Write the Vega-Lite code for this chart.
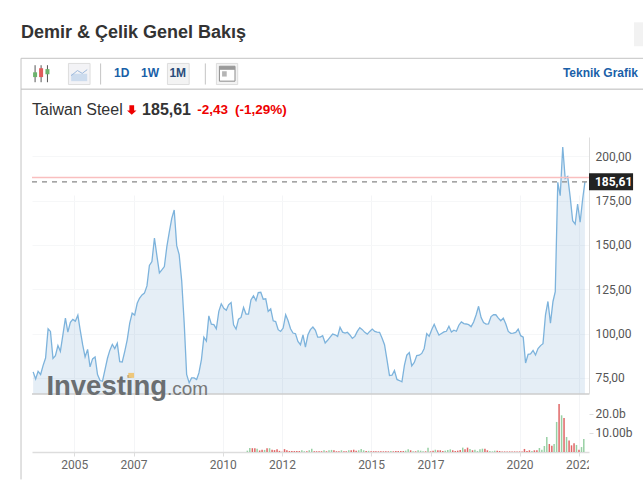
{
"$schema":"https://vega.github.io/schema/vega-lite/v6.json",
"autosize":{"type":"none"},
"padding":{"left":32,"top":137,"right":54,"bottom":28},
"width":557,"height":315,
"background":"white",
"config":{"view":{"stroke":null}},
"data":{"values":[{}]},
"datasets":{
"price":[
{"d":"2003-08-15","p":78.4},{"d":"2003-09-15","p":74.4},{"d":"2003-10-15","p":78.7},{"d":"2003-11-15","p":76.9},{"d":"2003-12-15","p":81.9},
{"d":"2004-01-15","p":86.2},{"d":"2004-02-15","p":102.7},{"d":"2004-03-15","p":101.2},{"d":"2004-04-15","p":86},{"d":"2004-05-15","p":87.5},{"d":"2004-06-15","p":93.2},{"d":"2004-07-15","p":90},{"d":"2004-08-15","p":99.3},{"d":"2004-09-15","p":108.7},{"d":"2004-10-15","p":100.8},{"d":"2004-11-15","p":106.3},{"d":"2004-12-15","p":108},
{"d":"2005-01-15","p":107},{"d":"2005-02-15","p":110.4},{"d":"2005-03-15","p":102.2},{"d":"2005-04-15","p":93.7},{"d":"2005-05-15","p":86.8},{"d":"2005-06-15","p":91.1},{"d":"2005-07-15","p":81.2},{"d":"2005-08-15","p":85.7},{"d":"2005-09-15","p":86.8},{"d":"2005-10-15","p":76.9},{"d":"2005-11-15","p":73.5},{"d":"2005-12-15","p":73.1},
{"d":"2006-01-15","p":79.7},{"d":"2006-02-15","p":86.2},{"d":"2006-03-15","p":90.5},{"d":"2006-04-15","p":93.9},{"d":"2006-05-15","p":91.5},{"d":"2006-06-15","p":94.5},{"d":"2006-07-15","p":84.2},{"d":"2006-08-15","p":84},{"d":"2006-09-15","p":90},{"d":"2006-10-15","p":96.5},{"d":"2006-11-15","p":105.9},{"d":"2006-12-15","p":111.5},
{"d":"2007-01-15","p":110.4},{"d":"2007-02-15","p":117.1},{"d":"2007-03-15","p":119.9},{"d":"2007-04-15","p":121.8},{"d":"2007-05-15","p":122.8},{"d":"2007-06-15","p":126.9},{"d":"2007-07-15","p":138.4},{"d":"2007-08-15","p":140.6},{"d":"2007-09-15","p":153.9},{"d":"2007-10-15","p":144},{"d":"2007-11-15","p":134.2},{"d":"2007-12-15","p":135.9},
{"d":"2008-01-15","p":137.8},{"d":"2008-02-15","p":149.2},{"d":"2008-03-15","p":157.1},{"d":"2008-04-15","p":165},{"d":"2008-05-15","p":169.7},{"d":"2008-06-15","p":149.6},{"d":"2008-07-15","p":144.6},{"d":"2008-08-15","p":129.9},{"d":"2008-09-15","p":105.9},{"d":"2008-10-15","p":76.9},{"d":"2008-11-15","p":72.2},{"d":"2008-12-15","p":75},
{"d":"2009-01-15","p":75},{"d":"2009-02-15","p":74.1},{"d":"2009-03-15","p":77.8},{"d":"2009-04-15","p":85.3},{"d":"2009-05-15","p":98},{"d":"2009-06-15","p":95.8},{"d":"2009-07-15","p":110},{"d":"2009-08-15","p":105.3},{"d":"2009-09-15","p":105},{"d":"2009-10-15","p":102.7},{"d":"2009-11-15","p":112.5},{"d":"2009-12-15","p":116.8},
{"d":"2010-01-15","p":114.3},{"d":"2010-02-15","p":113.2},{"d":"2010-03-15","p":116.2},{"d":"2010-04-15","p":117.5},{"d":"2010-05-15","p":105},{"d":"2010-06-15","p":102.5},{"d":"2010-07-15","p":108.1},{"d":"2010-08-15","p":109.1},{"d":"2010-09-15","p":114.7},{"d":"2010-10-15","p":111},{"d":"2010-11-15","p":111},{"d":"2010-12-15","p":119},
{"d":"2011-01-15","p":121.3},{"d":"2011-02-15","p":118.6},{"d":"2011-03-15","p":123.1},{"d":"2011-04-15","p":123.3},{"d":"2011-05-15","p":119.4},{"d":"2011-06-15","p":119.6},{"d":"2011-07-15","p":112.5},{"d":"2011-08-15","p":114},{"d":"2011-09-15","p":107.2},{"d":"2011-10-15","p":106.8},{"d":"2011-11-15","p":102.2},{"d":"2011-12-15","p":101.2},
{"d":"2012-01-15","p":103.1},{"d":"2012-02-15","p":110.6},{"d":"2012-03-15","p":107.4},{"d":"2012-04-15","p":102.7},{"d":"2012-05-15","p":100.3},{"d":"2012-06-15","p":99.9},{"d":"2012-07-15","p":95.6},{"d":"2012-08-15","p":93.7},{"d":"2012-09-15","p":99.3},{"d":"2012-10-15","p":92.4},{"d":"2012-11-15","p":99.3},{"d":"2012-12-15","p":102.2},
{"d":"2013-01-15","p":103.7},{"d":"2013-02-15","p":101.8},{"d":"2013-03-15","p":98},{"d":"2013-04-15","p":98},{"d":"2013-05-15","p":98.8},{"d":"2013-06-15","p":94.7},{"d":"2013-07-15","p":96.2},{"d":"2013-08-15","p":98},{"d":"2013-09-15","p":99.7},{"d":"2013-10-15","p":99.3},{"d":"2013-11-15","p":98.4},{"d":"2013-12-15","p":103.5},
{"d":"2014-01-15","p":100.8},{"d":"2014-02-15","p":100.3},{"d":"2014-03-15","p":100.7},{"d":"2014-04-15","p":99.2},{"d":"2014-05-15","p":97.3},{"d":"2014-06-15","p":98.4},{"d":"2014-07-15","p":101.2},{"d":"2014-08-15","p":103.3},{"d":"2014-09-15","p":102.2},{"d":"2014-10-15","p":100.7},{"d":"2014-11-15","p":99.7},{"d":"2014-12-15","p":101.2},
{"d":"2015-01-15","p":102.5},{"d":"2015-02-15","p":101.2},{"d":"2015-03-15","p":100.8},{"d":"2015-04-15","p":100.7},{"d":"2015-05-15","p":97.5},{"d":"2015-06-15","p":93.7},{"d":"2015-07-15","p":85.3},{"d":"2015-08-15","p":76.3},{"d":"2015-09-15","p":76.5},{"d":"2015-10-15","p":79.1},{"d":"2015-11-15","p":74.1},{"d":"2015-12-15","p":73.5},
{"d":"2016-01-15","p":72.8},{"d":"2016-02-15","p":82.2},{"d":"2016-03-15","p":87.8},{"d":"2016-04-15","p":89.3},{"d":"2016-05-15","p":81.8},{"d":"2016-06-15","p":83.7},{"d":"2016-07-15","p":87.6},{"d":"2016-08-15","p":87.8},{"d":"2016-09-15","p":88.8},{"d":"2016-10-15","p":91.6},{"d":"2016-11-15","p":100},{"d":"2016-12-15","p":98.5},
{"d":"2017-01-15","p":102.2},{"d":"2017-02-15","p":105.2},{"d":"2017-03-15","p":102.2},{"d":"2017-04-15","p":99.1},{"d":"2017-05-15","p":100},{"d":"2017-06-15","p":100.9},{"d":"2017-07-15","p":101.3},{"d":"2017-08-15","p":104.1},{"d":"2017-09-15","p":100.9},{"d":"2017-10-15","p":101.9},{"d":"2017-11-15","p":101.3},{"d":"2017-12-15","p":104.7},
{"d":"2018-01-15","p":106.6},{"d":"2018-02-15","p":105.6},{"d":"2018-03-15","p":105.4},{"d":"2018-04-15","p":105},{"d":"2018-05-15","p":103.9},{"d":"2018-06-15","p":106.5},{"d":"2018-07-15","p":110.5},{"d":"2018-08-15","p":115.4},{"d":"2018-09-15","p":109},{"d":"2018-10-15","p":106.2},{"d":"2018-11-15","p":105.3},{"d":"2018-12-15","p":105.5},
{"d":"2019-01-15","p":109.6},{"d":"2019-02-15","p":110.6},{"d":"2019-03-15","p":110.6},{"d":"2019-04-15","p":108.7},{"d":"2019-05-15","p":107.2},{"d":"2019-06-15","p":108.7},{"d":"2019-07-15","p":105.5},{"d":"2019-08-15","p":101.2},{"d":"2019-09-15","p":100.1},{"d":"2019-10-15","p":100.3},{"d":"2019-11-15","p":100.7},{"d":"2019-12-15","p":102.5},
{"d":"2020-01-15","p":98.8},{"d":"2020-02-15","p":98},{"d":"2020-03-15","p":83.4},{"d":"2020-04-15","p":88.3},{"d":"2020-05-15","p":88.5},{"d":"2020-06-15","p":90.5},{"d":"2020-07-15","p":87.9},{"d":"2020-08-15","p":91.5},{"d":"2020-09-15","p":93.2},{"d":"2020-10-15","p":94.3},{"d":"2020-11-15","p":110.6},{"d":"2020-12-15","p":118.1},
{"d":"2021-01-15","p":105.9},{"d":"2021-02-15","p":118.1},{"d":"2021-03-15","p":123.7},{"d":"2021-04-15","p":185.3},{"d":"2021-05-15","p":177.8},{"d":"2021-06-15","p":205.3},{"d":"2021-07-15","p":187.5},{"d":"2021-08-15","p":188.6},{"d":"2021-09-15","p":176.8},{"d":"2021-10-15","p":163.7},{"d":"2021-11-15","p":161.8},{"d":"2021-12-15","p":173.1},
{"d":"2022-01-15","p":162.8},{"d":"2022-02-15","p":175.9},{"d":"2022-03-15","p":185.61}
],
"volume":[
{"d":"2010-11-01","v":0.7,"dir":"up"},{"d":"2010-12-01","v":2.1,"dir":"up"},
{"d":"2011-01-01","v":2,"dir":"down"},{"d":"2011-02-01","v":2,"dir":"down"},{"d":"2011-03-01","v":1.7,"dir":"up"},{"d":"2011-04-01","v":0.8,"dir":"down"},{"d":"2011-05-01","v":1.2,"dir":"down"},{"d":"2011-06-01","v":1.1,"dir":"up"},{"d":"2011-07-01","v":2,"dir":"down"},{"d":"2011-08-01","v":2,"dir":"up"},{"d":"2011-09-01","v":1.2,"dir":"down"},{"d":"2011-10-01","v":1,"dir":"down"},{"d":"2011-11-01","v":1.5,"dir":"down"},{"d":"2011-12-01","v":0.6,"dir":"down"},
{"d":"2012-01-01","v":0.1,"dir":"down"},{"d":"2012-02-01","v":1.5,"dir":"down"},{"d":"2012-03-01","v":0.9,"dir":"down"},{"d":"2012-04-01","v":0.5,"dir":"down"},{"d":"2012-05-01","v":0.5,"dir":"down"},{"d":"2012-06-01","v":0.5,"dir":"down"},{"d":"2012-07-01","v":0.5,"dir":"down"},{"d":"2012-08-01","v":0.5,"dir":"down"},{"d":"2012-09-01","v":0.9,"dir":"up"},{"d":"2012-10-01","v":0.4,"dir":"up"},{"d":"2012-11-01","v":0.4,"dir":"down"},{"d":"2012-12-01","v":0.9,"dir":"up"},
{"d":"2013-01-01","v":1.7,"dir":"up"},{"d":"2013-02-01","v":0.4,"dir":"down"},{"d":"2013-03-01","v":0.4,"dir":"down"},{"d":"2013-04-01","v":0.4,"dir":"down"},{"d":"2013-05-01","v":0.4,"dir":"down"},{"d":"2013-06-01","v":0.9,"dir":"up"},{"d":"2013-07-01","v":0.4,"dir":"down"},{"d":"2013-08-01","v":0.9,"dir":"up"},{"d":"2013-09-01","v":1.1,"dir":"up"},{"d":"2013-10-01","v":0.9,"dir":"down"},{"d":"2013-11-01","v":0.4,"dir":"down"},{"d":"2013-12-01","v":0.4,"dir":"down"},
{"d":"2014-01-01","v":0.9,"dir":"up"},{"d":"2014-02-01","v":0.4,"dir":"down"},{"d":"2014-03-01","v":0.4,"dir":"down"},{"d":"2014-04-01","v":0.9,"dir":"up"},{"d":"2014-05-01","v":0.9,"dir":"down"},{"d":"2014-06-01","v":1.2,"dir":"down"},{"d":"2014-07-01","v":0.6,"dir":"down"},{"d":"2014-08-01","v":0.9,"dir":"up"},{"d":"2014-09-01","v":1.6,"dir":"up"},{"d":"2014-10-01","v":0.9,"dir":"up"},{"d":"2014-11-01","v":0.5,"dir":"down"},{"d":"2014-12-01","v":0.6,"dir":"up"},
{"d":"2015-01-01","v":0.4,"dir":"down"},{"d":"2015-02-01","v":0.4,"dir":"down"},{"d":"2015-03-01","v":0.35,"dir":"down"},{"d":"2015-04-01","v":0.35,"dir":"down"},{"d":"2015-05-01","v":0.35,"dir":"down"},{"d":"2015-06-01","v":0.35,"dir":"down"},{"d":"2015-07-01","v":0.35,"dir":"down"},{"d":"2015-08-01","v":0.35,"dir":"down"},{"d":"2015-09-01","v":0.5,"dir":"up"},{"d":"2015-10-01","v":0.35,"dir":"down"},{"d":"2015-11-01","v":0.5,"dir":"down"},{"d":"2015-12-01","v":0.5,"dir":"down"},
{"d":"2016-01-01","v":0.5,"dir":"down"},{"d":"2016-02-01","v":0.5,"dir":"down"},{"d":"2016-03-01","v":0.7,"dir":"up"},{"d":"2016-04-01","v":1.4,"dir":"up"},{"d":"2016-05-01","v":0.9,"dir":"down"},{"d":"2016-06-01","v":0.35,"dir":"up"},{"d":"2016-07-01","v":0.35,"dir":"down"},{"d":"2016-08-01","v":0.9,"dir":"up"},{"d":"2016-09-01","v":0.7,"dir":"up"},{"d":"2016-10-01","v":0.35,"dir":"up"},{"d":"2016-11-01","v":0.35,"dir":"down"},{"d":"2016-12-01","v":2.3,"dir":"up"},
{"d":"2017-01-01","v":0.35,"dir":"down"},{"d":"2017-02-01","v":0.7,"dir":"down"},{"d":"2017-03-01","v":1.2,"dir":"up"},{"d":"2017-04-01","v":0.9,"dir":"down"},{"d":"2017-05-01","v":0.9,"dir":"down"},{"d":"2017-06-01","v":0.5,"dir":"down"},{"d":"2017-07-01","v":0.7,"dir":"up"},{"d":"2017-08-01","v":1.05,"dir":"up"},{"d":"2017-09-01","v":1.4,"dir":"up"},{"d":"2017-10-01","v":0.9,"dir":"down"},{"d":"2017-11-01","v":0.5,"dir":"down"},{"d":"2017-12-01","v":0.7,"dir":"down"},
{"d":"2018-01-01","v":1.05,"dir":"down"},{"d":"2018-02-01","v":2.3,"dir":"up"},{"d":"2018-03-01","v":1.4,"dir":"down"},{"d":"2018-04-01","v":2.3,"dir":"down"},{"d":"2018-05-01","v":1.6,"dir":"up"},{"d":"2018-06-01","v":0.9,"dir":"down"},{"d":"2018-07-01","v":1.2,"dir":"up"},{"d":"2018-08-01","v":0.5,"dir":"up"},{"d":"2018-09-01","v":1.4,"dir":"up"},{"d":"2018-10-01","v":1.75,"dir":"up"},{"d":"2018-11-01","v":1.75,"dir":"down"},{"d":"2018-12-01","v":0.9,"dir":"down"},
{"d":"2019-01-01","v":0.5,"dir":"up"},{"d":"2019-02-01","v":0.35,"dir":"up"},{"d":"2019-03-01","v":0.7,"dir":"up"},{"d":"2019-04-01","v":0.7,"dir":"down"},{"d":"2019-05-01","v":0.5,"dir":"down"},{"d":"2019-06-01","v":0.3,"dir":"down"},{"d":"2019-07-01","v":0.3,"dir":"down"},{"d":"2019-08-01","v":0.3,"dir":"down"},{"d":"2019-09-01","v":0.3,"dir":"down"},{"d":"2019-10-01","v":0.3,"dir":"down"},{"d":"2019-11-01","v":0.3,"dir":"down"},{"d":"2019-12-01","v":0.3,"dir":"down"},
{"d":"2020-01-01","v":0.3,"dir":"down"},{"d":"2020-02-01","v":0.3,"dir":"down"},{"d":"2020-03-01","v":1.6,"dir":"down"},{"d":"2020-04-01","v":0.5,"dir":"down"},{"d":"2020-05-01","v":0.9,"dir":"down"},{"d":"2020-06-01","v":0.5,"dir":"up"},{"d":"2020-07-01","v":0.9,"dir":"down"},{"d":"2020-08-01","v":0.9,"dir":"down"},{"d":"2020-09-01","v":2.1,"dir":"up"},{"d":"2020-10-01","v":1.2,"dir":"up"},{"d":"2020-11-01","v":3.2,"dir":"up"},{"d":"2020-12-01","v":7.9,"dir":"up"},
{"d":"2021-01-01","v":4.2,"dir":"down"},{"d":"2021-02-01","v":3.3,"dir":"down"},{"d":"2021-03-01","v":4.2,"dir":"up"},{"d":"2021-04-01","v":15.8,"dir":"up"},{"d":"2021-05-01","v":25.3,"dir":"down"},{"d":"2021-06-01","v":19.3,"dir":"up"},{"d":"2021-07-01","v":17.9,"dir":"down"},{"d":"2021-08-01","v":7.9,"dir":"up"},{"d":"2021-09-01","v":6.1,"dir":"down"},{"d":"2021-10-01","v":3.5,"dir":"down"},{"d":"2021-11-01","v":4.6,"dir":"down"},{"d":"2021-12-01","v":3.7,"dir":"up"},
{"d":"2022-01-01","v":1.2,"dir":"down"},{"d":"2022-02-01","v":2.6,"dir":"up"},{"d":"2022-03-01","v":6.8,"dir":"up"}
]
},
"resolve":{"scale":{"y":"independent"}},
"layer":[
{"layer":[
{"data":{"name":"price"},
 "mark":{"type":"area","fill":"#5b93c4","fillOpacity":0.16},
 "encoding":{
  "x":{"field":"d","type":"temporal","title":null,
   "scale":{"domain":[{"year":2003,"month":8,"date":1},{"year":2022,"month":5,"date":4}],"padding":0},
   "axis":{"values":[{"year":2005,"month":1,"date":1},{"year":2007,"month":1,"date":1},{"year":2010,"month":1,"date":1},{"year":2012,"month":1,"date":1},{"year":2015,"month":1,"date":1},{"year":2017,"month":1,"date":1},{"year":2020,"month":1,"date":1},{"year":2022,"month":1,"date":1}],
    "format":"%Y","grid":true,"gridColor":"#f4f5f7","domainColor":"#dddddd","domainWidth":1.5,"tickColor":"#dddddd","tickSize":4,"labelFont":"Roboto","labelFontSize":12,"labelColor":"#666666","labelPadding":3,"labelFlush":false,"labelOverlap":false}},
  "y":{"field":"p","type":"quantitative","title":null,
   "scale":{"domain":[65.9,210.9],"range":[257,0],"nice":false,"zero":false},
   "axis":{"orient":"right","values":[75,100,125,150,175,200],"labelExpr":"replace(format(datum.value,'.2f'),'.',',')","grid":true,"gridColor":"#f6f7f8","domainColor":"#dddddd","ticks":false,"labelFont":"Roboto","labelFontSize":12,"labelColor":"#555555","labelPadding":6}},
  "y2":{"datum":65.9}}},
{"data":{"name":"price"},
 "mark":{"type":"line","stroke":"#7db3dc","strokeWidth":1.3},
 "encoding":{"x":{"field":"d","type":"temporal","title":null},"y":{"field":"p","type":"quantitative","title":null}}},
{"mark":{"type":"rule","stroke":"#f9bfbf","strokeWidth":1.5},
 "encoding":{"x":{"datum":{"year":2003,"month":8,"date":1},"type":"temporal","title":null},"x2":{"datum":{"year":2022,"month":5,"date":4}},"y":{"datum":188.04,"title":null}}},
{"mark":{"type":"rule","stroke":"#888888","strokeWidth":1.2,"strokeDash":[5,5]},
 "encoding":{"x":{"datum":{"year":2003,"month":8,"date":1},"type":"temporal","title":null},"x2":{"datum":{"year":2022,"month":5,"date":4}},"y":{"datum":185.61,"title":null}}},
{"mark":{"type":"rect","fill":"#222222"},
 "encoding":{"x":{"datum":{"year":2022,"month":5,"date":4},"type":"temporal","title":null},"x2":{"datum":{"year":2023,"month":10,"date":28}},"y":{"datum":190.4,"title":null},"y2":{"datum":180.8}}},
{"mark":{"type":"text","text":"185,61","font":"Roboto","fontWeight":"bold","fontSize":12,"fill":"#ffffff","align":"left","baseline":"middle"},
 "encoding":{"x":{"datum":{"year":2022,"month":7,"date":16},"type":"temporal","title":null},"y":{"datum":185.61,"title":null}}},
{"mark":{"type":"rule","stroke":"#cccccc","strokeWidth":1.5},
 "encoding":{"x":{"datum":{"year":2003,"month":8,"date":1},"type":"temporal","title":null},"x2":{"datum":{"year":2022,"month":5,"date":4}},"y":{"datum":65.9,"title":null}}},
{"mark":{"type":"text","text":"Investing","font":"Liberation Sans","fontWeight":"bold","fontSize":27.5,"fill":"#6a6e71","align":"left","baseline":"alphabetic"},
 "encoding":{"x":{"datum":{"year":2004,"month":1,"date":25},"type":"temporal","title":null},"y":{"datum":65.6,"title":null}}},
{"mark":{"type":"text","text":".com","font":"Liberation Sans","fontSize":19,"fill":"#777777","align":"left","baseline":"alphabetic"},
 "encoding":{"x":{"datum":{"year":2008,"month":2,"date":15},"type":"temporal","title":null},"y":{"datum":65.6,"title":null}}},
{"mark":{"type":"rect","fill":"#eec77a"},
 "encoding":{"x":{"datum":{"year":2006,"month":10,"date":28},"type":"temporal","title":null},"x2":{"datum":{"year":2007,"month":1,"date":7}},"y":{"datum":77.8,"title":null},"y2":{"datum":75}}},
{"mark":{"type":"text","text":"Demir & Çelik Genel Bakış","font":"Liberation Sans","fontWeight":"bold","fontSize":18,"fill":"#333333","align":"left","baseline":"middle"},
 "encoding":{"x":{"datum":{"year":2003,"month":3,"date":19},"type":"temporal","title":null},"y":{"datum":269.4,"title":null}}},
{"mark":{"type":"rect","fill":"#f2f2f2"},
 "encoding":{"x":{"datum":{"year":2023,"month":11,"date":9},"type":"temporal","title":null},"x2":{"datum":{"year":2024,"month":3,"date":1}},"y":{"datum":275.6,"title":null},"y2":{"datum":262.1}}},
{"mark":{"type":"rule","stroke":"#c4c4c4","strokeWidth":1},
 "encoding":{"x":{"datum":{"year":2003,"month":3,"date":19},"type":"temporal","title":null},"x2":{"datum":{"year":2024,"month":3,"date":1}},"y":{"datum":255.3,"title":null}}},
{"mark":{"type":"rule","stroke":"#b8b8b8","strokeWidth":1},
 "encoding":{"x":{"datum":{"year":2003,"month":3,"date":19},"type":"temporal","title":null},"x2":{"datum":{"year":2024,"month":3,"date":1}},"y":{"datum":237.9,"title":null}}},
{"mark":{"type":"rule","stroke":"#c4c4c4","strokeWidth":1},
 "encoding":{"x":{"datum":{"year":2003,"month":3,"date":19},"type":"temporal","title":null},"y":{"datum":255.3,"title":null},"y2":{"datum":17.7}}},
{"mark":{"type":"rule","stroke":"#555555","strokeWidth":1},
 "encoding":{"x":{"datum":{"year":2003,"month":9,"date":8},"type":"temporal","title":null},"y":{"datum":251.4,"title":null},"y2":{"datum":241.8}}},
{"mark":{"type":"rule","stroke":"#555555","strokeWidth":1},
 "encoding":{"x":{"datum":{"year":2003,"month":11,"date":21},"type":"temporal","title":null},"y":{"datum":251.4,"title":null},"y2":{"datum":241.8}}},
{"mark":{"type":"rule","stroke":"#555555","strokeWidth":1},
 "encoding":{"x":{"datum":{"year":2004,"month":2,"date":7},"type":"temporal","title":null},"y":{"datum":251.4,"title":null},"y2":{"datum":241.8}}},
{"mark":{"type":"rule","stroke":"#6cb36c","strokeWidth":4},
 "encoding":{"x":{"datum":{"year":2003,"month":9,"date":8},"type":"temporal","title":null},"y":{"datum":247.4,"title":null},"y2":{"datum":244.7}}},
{"mark":{"type":"rule","stroke":"#e05a5a","strokeWidth":4},
 "encoding":{"x":{"datum":{"year":2003,"month":11,"date":21},"type":"temporal","title":null},"y":{"datum":249.7,"title":null},"y2":{"datum":244.7}}},
{"mark":{"type":"rule","stroke":"#6cb36c","strokeWidth":4},
 "encoding":{"x":{"datum":{"year":2004,"month":2,"date":7},"type":"temporal","title":null},"y":{"datum":249.2,"title":null},"y2":{"datum":246.3}}},
{"mark":{"type":"rect","fill":"#f3f3f6","stroke":"#dddddd"},
 "encoding":{"x":{"datum":{"year":2004,"month":10,"date":22},"type":"temporal","title":null},"x2":{"datum":{"year":2005,"month":7,"date":15}},"y":{"datum":252.4,"title":null},"y2":{"datum":240.5}}},
{"mark":{"type":"rect","fill":"#cddcee"},
 "encoding":{"x":{"datum":{"year":2004,"month":11,"date":25},"type":"temporal","title":null},"x2":{"datum":{"year":2005,"month":6,"date":10}},"y":{"datum":246.6,"title":null},"y2":{"datum":242.4}}},
{"mark":{"type":"rule","stroke":"#9db9dc","strokeWidth":1},
 "encoding":{"x":{"datum":{"year":2004,"month":11,"date":25},"type":"temporal","title":null},"x2":{"datum":{"year":2005,"month":2,"date":10}},"y":{"datum":245.5,"title":null},"y2":{"datum":248.4}}},
{"mark":{"type":"rule","stroke":"#9db9dc","strokeWidth":1},
 "encoding":{"x":{"datum":{"year":2005,"month":2,"date":10},"type":"temporal","title":null},"x2":{"datum":{"year":2005,"month":4,"date":10}},"y":{"datum":248.4,"title":null},"y2":{"datum":246.8}}},
{"mark":{"type":"rule","stroke":"#9db9dc","strokeWidth":1},
 "encoding":{"x":{"datum":{"year":2005,"month":4,"date":10},"type":"temporal","title":null},"x2":{"datum":{"year":2005,"month":6,"date":10}},"y":{"datum":246.8,"title":null},"y2":{"datum":248.9}}},
{"mark":{"type":"rule","stroke":"#c4c4c4","strokeWidth":1},
 "encoding":{"x":{"datum":{"year":2005,"month":11,"date":22},"type":"temporal","title":null},"y":{"datum":252.4,"title":null},"y2":{"datum":240.5}}},
{"mark":{"type":"text","text":"1D","font":"Liberation Sans","fontWeight":"bold","fontSize":12,"fill":"#1a5fa8","align":"center","baseline":"middle"},
 "encoding":{"x":{"datum":{"year":2006,"month":8,"date":9},"type":"temporal","title":null},"y":{"datum":246.9,"title":null}}},
{"mark":{"type":"text","text":"1W","font":"Liberation Sans","fontWeight":"bold","fontSize":12,"fill":"#1a5fa8","align":"center","baseline":"middle"},
 "encoding":{"x":{"datum":{"year":2007,"month":7,"date":22},"type":"temporal","title":null},"y":{"datum":246.9,"title":null}}},
{"mark":{"type":"rect","fill":"#f3f3f3","stroke":"#dddddd"},
 "encoding":{"x":{"datum":{"year":2008,"month":2,"date":22},"type":"temporal","title":null},"x2":{"datum":{"year":2008,"month":11,"date":15}},"y":{"datum":252.4,"title":null},"y2":{"datum":240.5}}},
{"mark":{"type":"text","text":"1M","font":"Liberation Sans","fontWeight":"bold","fontSize":12,"fill":"#2a4d7c","align":"center","baseline":"middle"},
 "encoding":{"x":{"datum":{"year":2008,"month":6,"date":28},"type":"temporal","title":null},"y":{"datum":246.9,"title":null}}},
{"mark":{"type":"rule","stroke":"#c4c4c4","strokeWidth":1},
 "encoding":{"x":{"datum":{"year":2009,"month":6,"date":2},"type":"temporal","title":null},"y":{"datum":252.4,"title":null},"y2":{"datum":240.5}}},
{"mark":{"type":"rect","fill":"#f3f3f3","stroke":"#dddddd"},
 "encoding":{"x":{"datum":{"year":2009,"month":10,"date":16},"type":"temporal","title":null},"x2":{"datum":{"year":2010,"month":7,"date":5}},"y":{"datum":252.4,"title":null},"y2":{"datum":240.5}}},
{"mark":{"type":"rect","fill":"#ffffff","stroke":"#8a8a8a"},
 "encoding":{"x":{"datum":{"year":2009,"month":11,"date":22},"type":"temporal","title":null},"x2":{"datum":{"year":2010,"month":6,"date":2}},"y":{"datum":250.8,"title":null},"y2":{"datum":242.4}}},
{"mark":{"type":"rect","fill":"#9a9a9a"},
 "encoding":{"x":{"datum":{"year":2009,"month":11,"date":22},"type":"temporal","title":null},"x2":{"datum":{"year":2010,"month":6,"date":2}},"y":{"datum":250.8,"title":null},"y2":{"datum":248.8}}},
{"mark":{"type":"rect","fill":"#b5b5b5"},
 "encoding":{"x":{"datum":{"year":2009,"month":12,"date":25},"type":"temporal","title":null},"x2":{"datum":{"year":2010,"month":2,"date":20}},"y":{"datum":248,"title":null},"y2":{"datum":245}}},
{"mark":{"type":"text","text":"Teknik Grafik","font":"Liberation Sans","fontWeight":"bold","fontSize":12,"fill":"#1a5fa8","align":"right","baseline":"middle"},
 "encoding":{"x":{"datum":{"year":2023,"month":12,"date":28},"type":"temporal","title":null},"y":{"datum":247.2,"title":null}}},
{"mark":{"type":"text","text":"Taiwan Steel","font":"Liberation Sans","fontSize":16,"fill":"#333333","align":"left","baseline":"middle"},
 "encoding":{"x":{"datum":{"year":2003,"month":8,"date":1},"type":"temporal","title":null},"y":{"datum":226.1,"title":null}}},
{"mark":{"type":"point","shape":"M-0.5,-1L0.5,-1L0.5,0.1L1,0.1L0,1L-1,0.1L-0.5,0.1Z","filled":true,"fill":"#ee0000","opacity":1,"size":90},
 "encoding":{"x":{"datum":{"year":2006,"month":12,"date":10},"type":"temporal","title":null},"y":{"datum":226.1,"title":null}}},
{"mark":{"type":"text","text":"185,61","font":"Liberation Sans","fontWeight":"bold","fontSize":16,"fill":"#333333","align":"left","baseline":"middle"},
 "encoding":{"x":{"datum":{"year":2007,"month":4,"date":16},"type":"temporal","title":null},"y":{"datum":226.1,"title":null}}},
{"mark":{"type":"text","text":"-2,43","font":"Liberation Sans","fontWeight":"bold","fontSize":13.5,"fill":"#ee0000","align":"left","baseline":"middle"},
 "encoding":{"x":{"datum":{"year":2009,"month":2,"date":22},"type":"temporal","title":null},"y":{"datum":226.1,"title":null}}},
{"mark":{"type":"text","text":"(-1,29%)","font":"Liberation Sans","fontWeight":"bold","fontSize":13.5,"fill":"#ee0000","align":"left","baseline":"middle"},
 "encoding":{"x":{"datum":{"year":2010,"month":6,"date":2},"type":"temporal","title":null},"y":{"datum":226.1,"title":null}}}
]},
{"layer":[
{"data":{"name":"volume"},
 "mark":{"type":"bar","width":1.5},
 "encoding":{
  "x":{"field":"d","type":"temporal","title":null,"scale":{"padding":0}},
  "y":{"field":"v","type":"quantitative","title":null,
   "scale":{"domain":[0,30.5],"range":[315,257],"nice":false},
   "axis":{"orient":"right","values":[10,20],"labelExpr":"datum.value==20?'20.0b':'10.00b'","grid":false,"domain":false,"ticks":true,"tickSize":4,"tickColor":"#dddddd","labelFont":"Roboto","labelFontSize":12,"labelColor":"#555555","labelPadding":2}},
  "color":{"field":"dir","type":"nominal","legend":null,"scale":{"domain":["up","down"],"range":["#98d0a4","#e06666"]}}}},
{"mark":{"type":"rect","fill":"#ffffff"},
 "encoding":{"x":{"datum":{"year":2022,"month":5,"date":4},"type":"temporal","title":null},"x2":{"datum":{"year":2022,"month":10,"date":1}},"y":{"datum":-1,"title":null},"y2":{"datum":-13}}}
]}
]
}
